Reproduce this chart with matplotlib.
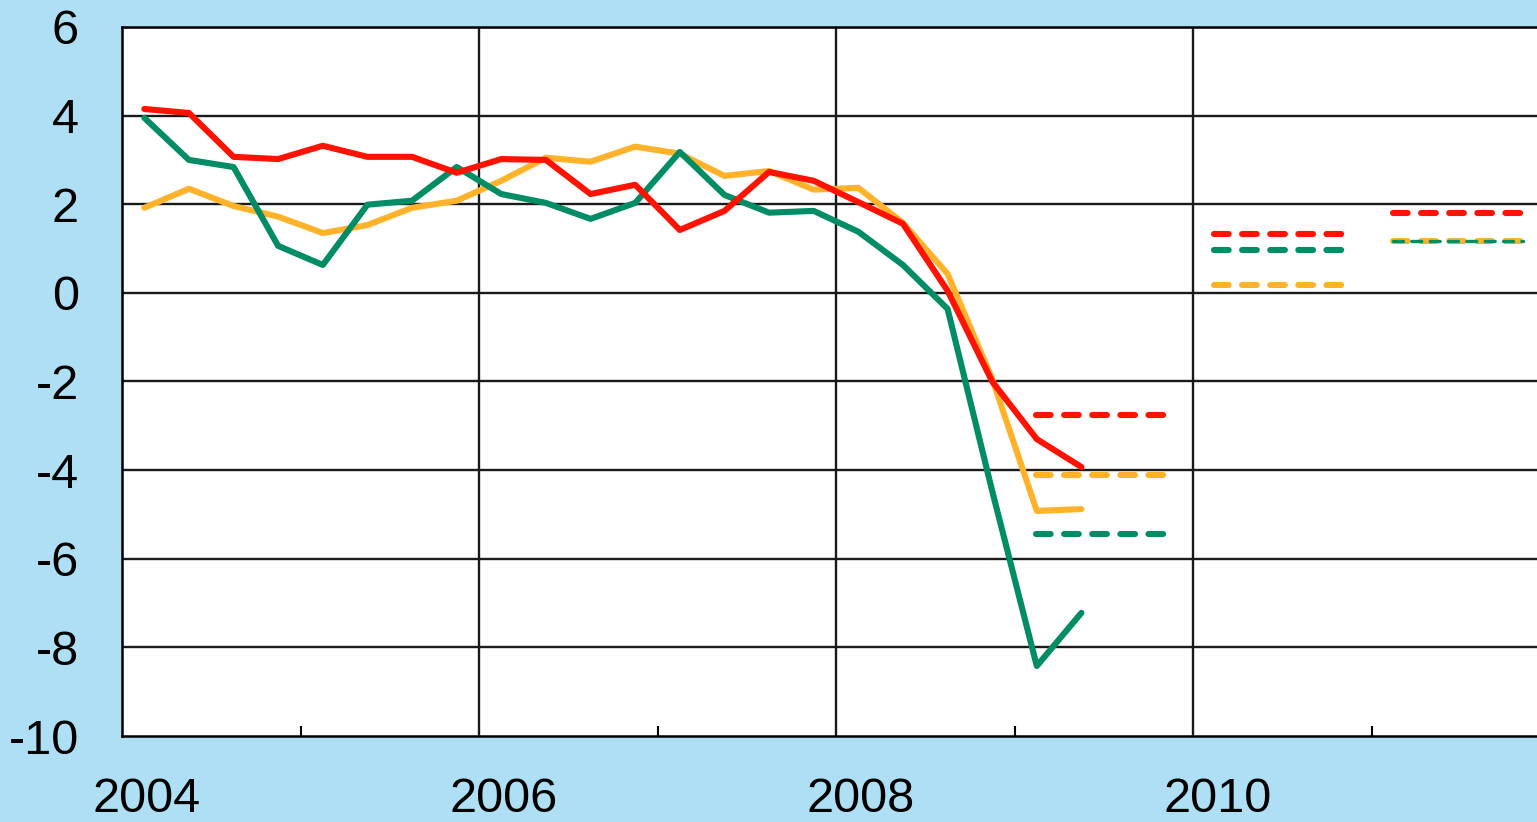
import numpy as np
import matplotlib
matplotlib.use("Agg")
import matplotlib.pyplot as plt

plt.rcParams['font.family'] = ['Liberation Sans', 'DejaVu Sans']

# quarterly growth, 2004 Q1 - 2009 Q2
quarters = [2004 + 0.125 + 0.25 * i for i in range(22)]
red_vals = [4.15, 4.06, 3.07, 3.02, 3.32, 3.07, 3.07, 2.71, 3.02, 3.00, 2.23,
            2.44, 1.42, 1.85, 2.73, 2.53, 2.05, 1.56, 0.05, -2.00, -3.30, -3.93]
orange_vals = [1.92, 2.35, 1.96, 1.72, 1.35, 1.53, 1.92, 2.08, 2.53, 3.05, 2.96,
               3.30, 3.14, 2.64, 2.75, 2.33, 2.37, 1.58, 0.43, -1.94, -4.92, -4.88]
green_vals = [3.95, 3.00, 2.84, 1.06, 0.63, 1.99, 2.08, 2.84, 2.23, 2.03, 1.67,
              2.03, 3.18, 2.21, 1.81, 1.85, 1.38, 0.63, -0.36, -4.47, -8.42, -7.22]

# annual forecasts (dashed)
fc_years = [2009, 2010, 2011]
red_fc = [-2.75, 1.33, 1.80]
orange_fc = [-4.10, 0.18, 1.17]
green_fc = [-5.44, 0.97, 1.17]

RED = '#ff1200'
ORANGE = '#ffb22a'
GREEN = '#008c64'
BG = '#afdff5'

fig = plt.figure(figsize=(15.37, 8.22), dpi=100)
fig.patch.set_facecolor(BG)
ax = fig.add_axes([122 / 1537, 86 / 822, 1428 / 1537, 709 / 822])
ax.set_facecolor('white')
ax.set_xlim(2004, 2012)
ax.set_ylim(-10, 6)

for y in range(-8, 7, 2):
    ax.axhline(y, color='#1a1a1a', lw=1.7, zorder=1)
for x in [2006, 2008, 2010]:
    ax.axvline(x, color='#1a1a1a', lw=1.7, zorder=1)

for s in ax.spines.values():
    s.set_color('black')
    s.set_linewidth(1.8)
ax.spines['right'].set_visible(False)

ax.set_yticks(range(-10, 7, 2))
ax.set_yticklabels([str(v) for v in range(-10, 7, 2)])
ax.tick_params(axis='y', length=0, pad=31, labelsize=35)
ax.set_xticks([2005, 2007, 2009, 2011])
ax.set_xticklabels([])
ax.tick_params(axis='x', direction='in', length=7, width=1.5, color='black')

lw = 4.4
ax.plot(quarters, orange_vals, color=ORANGE, lw=lw, solid_capstyle='round', solid_joinstyle='round', zorder=3)
ax.plot(quarters, green_vals, color=GREEN, lw=lw, solid_capstyle='round', solid_joinstyle='round', zorder=4)
ax.plot(quarters, red_vals, color=RED, lw=lw, solid_capstyle='round', solid_joinstyle='round', zorder=5)

for yr, r, o, g in zip(fc_years, red_fc, orange_fc, green_fc):
    xs = [yr + 0.12, yr + 0.85]
    ax.plot(xs, [o, o], color=ORANGE, lw=lw, dashes=(2.4, 2.2), dash_capstyle='round', zorder=3)
    if g == o:
        ax.plot(xs, [g, g], color=GREEN, lw=2.4, dashes=(3.0, 2.5), dash_capstyle='round', zorder=4)
    else:
        ax.plot(xs, [g, g], color=GREEN, lw=lw, dashes=(2.4, 2.2), dash_capstyle='round', zorder=4)
    ax.plot(xs, [r, r], color=RED, lw=lw, dashes=(2.4, 2.2), dash_capstyle='round', zorder=5)

for yr in [2004, 2006, 2008, 2010]:
    ax.text(yr + 0.14, -0.1075, str(yr), transform=ax.get_xaxis_transform(),
            ha='center', va='baseline', fontsize=35, clip_on=False)

fig.savefig('out.png', dpi=100, facecolor=BG)
